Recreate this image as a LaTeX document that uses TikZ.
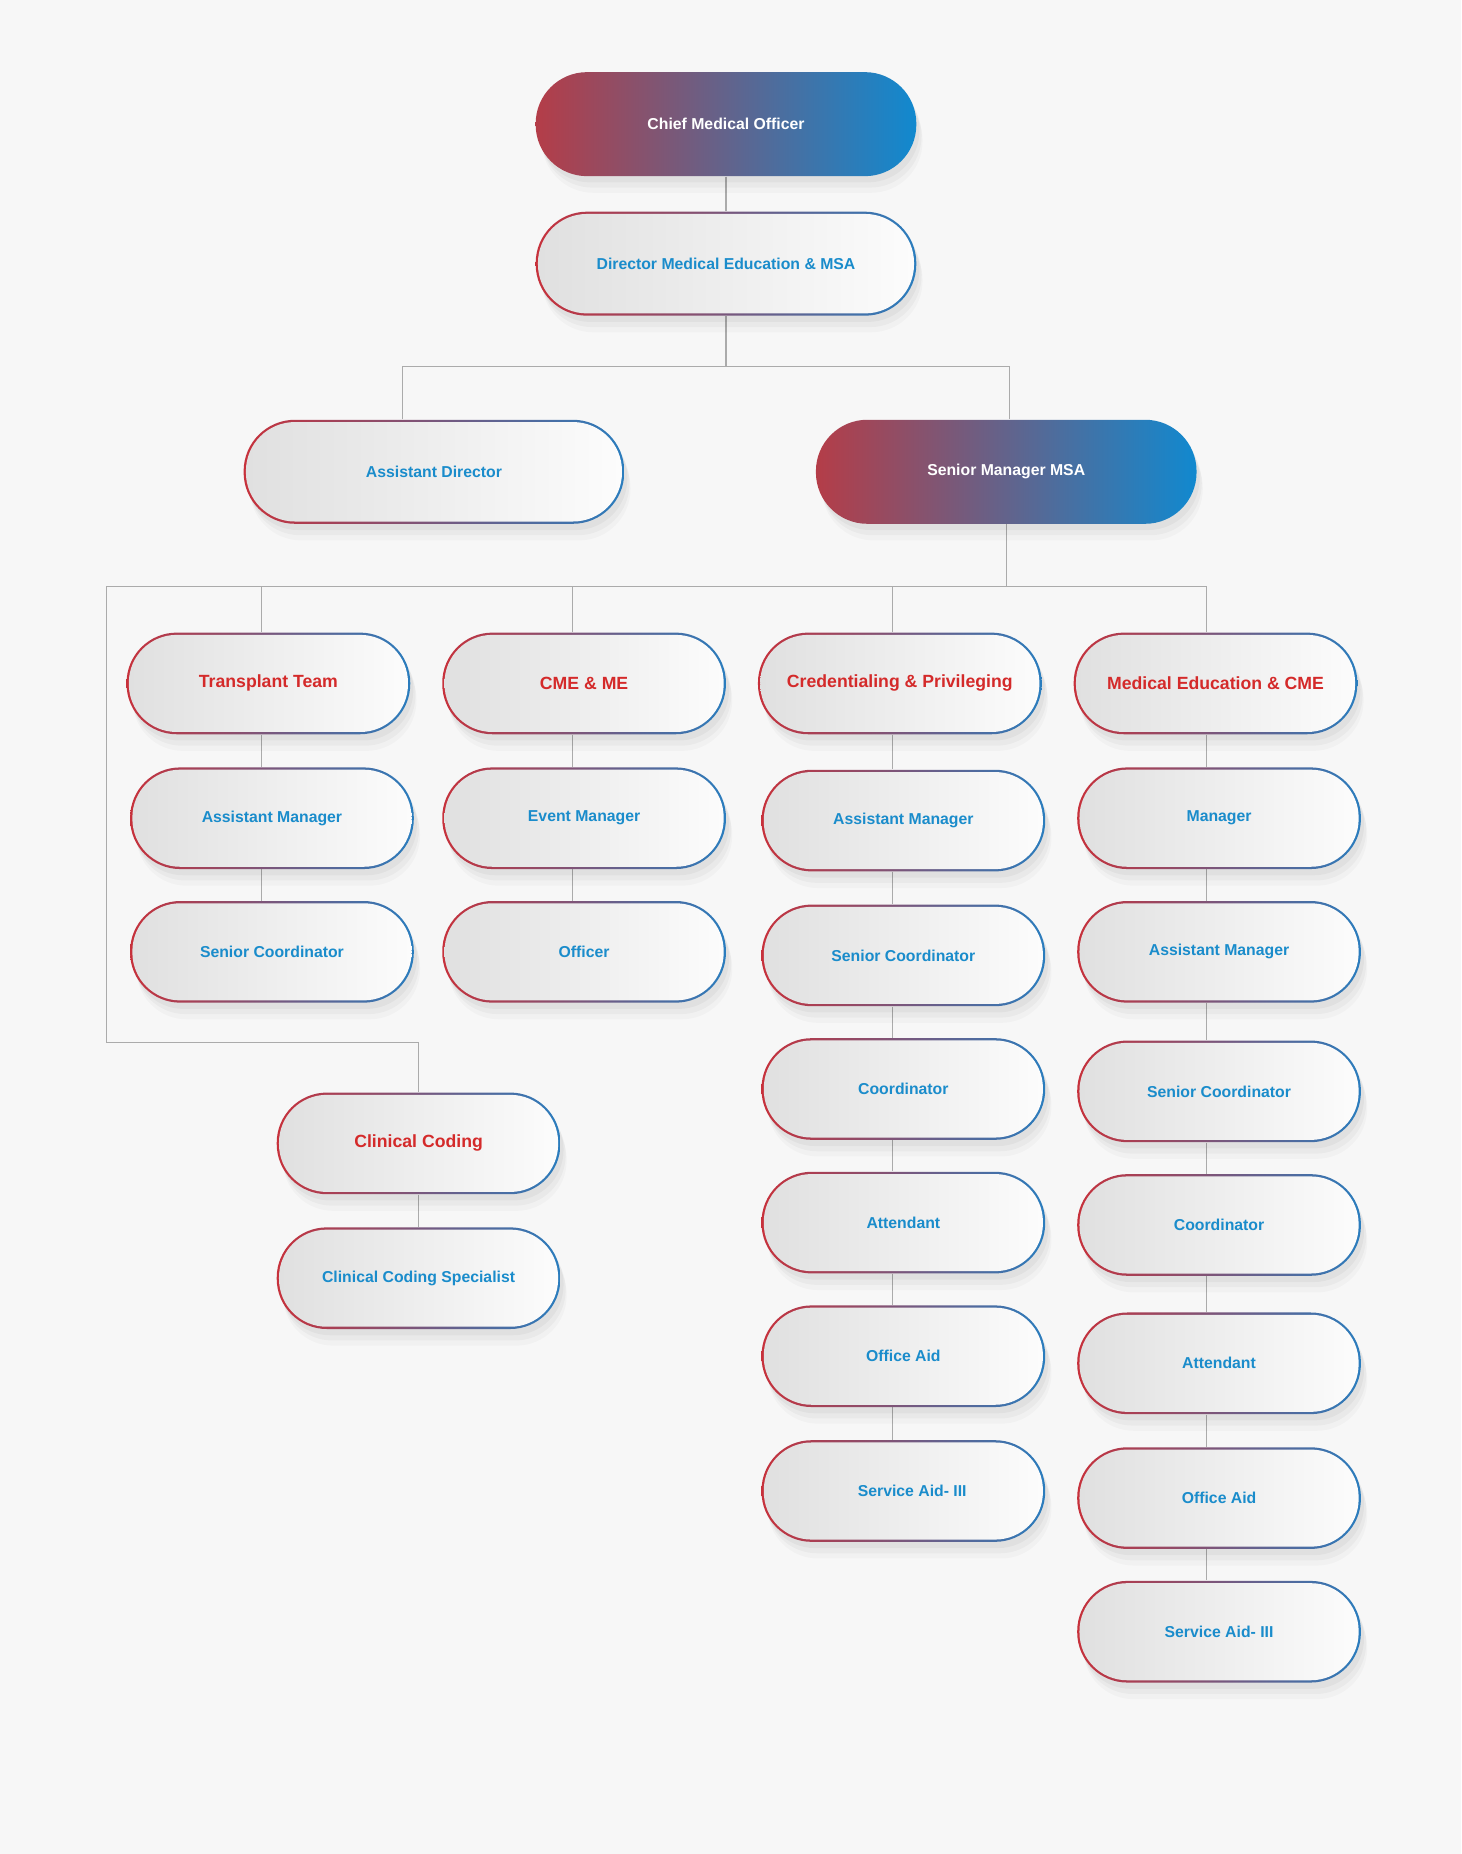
\documentclass[tikz,border=0pt]{standalone}
\usepackage{fontspec}
\setmainfont{Liberation Sans}
\usetikzlibrary{shadows,backgrounds}
\definecolor{bgc}{HTML}{F7F7F7}
\definecolor{linec}{HTML}{ABABAB}
\definecolor{redE}{HTML}{C7313B}
\definecolor{blueE}{HTML}{2A7DBE}
\definecolor{redG}{HTML}{B43D48}
\definecolor{blueG}{HTML}{1189CF}
\definecolor{txtB}{HTML}{1A8CCB}
\definecolor{txtR}{HTML}{D42A2A}
\definecolor{fillL}{HTML}{E0E0E0}
\definecolor{fillR}{HTML}{FCFCFC}
\tikzset{
  link/.style={draw=linec,line width=0.5pt},
  soft/.style={general shadow={fill=black,opacity=0.025,shadow xshift=3pt,shadow yshift=-8pt},
    general shadow={fill=black,opacity=0.03,shadow xshift=2.5pt,shadow yshift=-5.5pt},
    general shadow={fill=black,opacity=0.035,shadow xshift=1.5pt,shadow yshift=-3pt}},
  rim/.style={path picture={
    \shade[left color=redE,right color=blueE](path picture bounding box.south west)rectangle(path picture bounding box.north east);
    \shade[left color=fillL,right color=fillR,rounded corners=#1]
      ([shift={(1.1pt,1.1pt)}]path picture bounding box.south west)rectangle([shift={(-1.1pt,-1.1pt)}]path picture bounding box.north east);}},
  pill/.style={rectangle,rounded corners=0.85cm,minimum width=4.8cm,minimum height=1.72cm,inner sep=0pt,
    font=\bfseries\fontsize{7.6}{9}\selectfont,text=txtB,soft,rim=23pt},
  head/.style={pill,font=\bfseries\fontsize{8.5}{10}\selectfont,text=txtR},
  wide/.style={rectangle,rounded corners=0.87cm,minimum width=6.44cm,minimum height=1.76cm,inner sep=0pt,
    font=\bfseries\fontsize{7.6}{9}\selectfont,text=txtB,soft,rim=23.6pt},
  solid/.style={rectangle,rounded corners=0.87cm,minimum width=6.44cm,minimum height=1.76cm,inner sep=0pt,
    font=\bfseries\fontsize{7.6}{9}\selectfont,text=white,soft,
    path picture={\shade[left color=redG,right color=blueG](path picture bounding box.south west)rectangle(path picture bounding box.north east);}}
}
\begin{document}
\begin{tikzpicture}[x=0.02cm,y=-0.02cm]
\path[use as bounding box](0,0)rectangle(1236,1568);
% top levels
\node[solid](cmo)at(614,105){Chief Medical Officer};
\node[wide](dme)at(614,223){Director Medical Education \& MSA};
\node[wide](ad)at(367,399){Assistant Director};
\node[solid](smm)at(851,399){Senior Manager MSA};
% departments
\node[head](tt)at(227,578){Transplant Team};
\node[head](cme)at(494,578){CME \& ME};
\node[head](cp)at(761,578){Credentialing \& Privileging};
\node[head](mec)at(1028,578){Medical Education \& CME};
% transplant team
\node[pill](am1)at(230,692){Assistant Manager};
\node[pill](sc1)at(230,805){Senior Coordinator};
% cme and me
\node[pill](em2)at(494,692){Event Manager};
\node[pill](of2)at(494,805){Officer};
% credentialing
\node[pill](am3)at(764,694){Assistant Manager};
\node[pill](sc3)at(764,808){Senior Coordinator};
\node[pill](co3)at(764,921){Coordinator};
\node[pill](at3)at(764,1034){Attendant};
\node[pill](oa3)at(764,1147){Office Aid};
\node[pill](sa3)at(764,1261){\hspace*{0.3cm}Service Aid- III};
% medical education
\node[pill](mg4)at(1031,692){Manager};
\node[pill](am4)at(1031,805){Assistant Manager};
\node[pill](sc4)at(1031,923){Senior Coordinator};
\node[pill](co4)at(1031,1036){Coordinator};
\node[pill](at4)at(1031,1153){Attendant};
\node[pill](oa4)at(1031,1267){Office Aid};
\node[pill](sa4)at(1031,1380){Service Aid- III};
% clinical coding
\node[head](cc)at(354,967){Clinical Coding};
\node[pill](ccs)at(354,1081){Clinical Coding Specialist};
\begin{scope}[on background layer]
\fill[bgc](0,0)rectangle(1236,1568);
\coordinate(b1)at(614,310);
\coordinate(b2)at(851,496);
\coordinate(c0)at(90,496);
\coordinate(c1)at(221,496);
\coordinate(c2)at(484,496);
\coordinate(c3)at(755,496);
\coordinate(c4)at(1020,496);
\draw[link](cmo)--(dme);
\draw[link](dme)--(b1);
\draw[link]([shift={(-27,0)}]ad.north)|-(b1)-|([shift={(3,0)}]smm.north);
\draw[link](smm)--(b2);
\draw[link](c0)--(c4);
\draw[link](c1)--(tt.north-|c1);
\draw[link](c2)--(cme.north-|c2);
\draw[link](c3)--(cp.north-|c3);
\draw[link](c4)--(mec.north-|c4);
\foreach \a/\b in {tt/am1,am1/sc1}\draw[link](\a.south-|c1)--(\b.north-|c1);
\foreach \a/\b in {cme/em2,em2/of2}\draw[link](\a.south-|c2)--(\b.north-|c2);
\foreach \a/\b in {cp/am3,am3/sc3,sc3/co3,co3/at3,at3/oa3,oa3/sa3}\draw[link](\a.south-|c3)--(\b.north-|c3);
\foreach \a/\b in {mec/mg4,mg4/am4,am4/sc4,sc4/co4,co4/at4,at4/oa4,oa4/sa4}\draw[link](\a.south-|c4)--(\b.north-|c4);
\draw[link](c0)--++(0,386)-|(cc.north);
\draw[link](cc)--(ccs);
\end{scope}
\end{tikzpicture}
\end{document}
